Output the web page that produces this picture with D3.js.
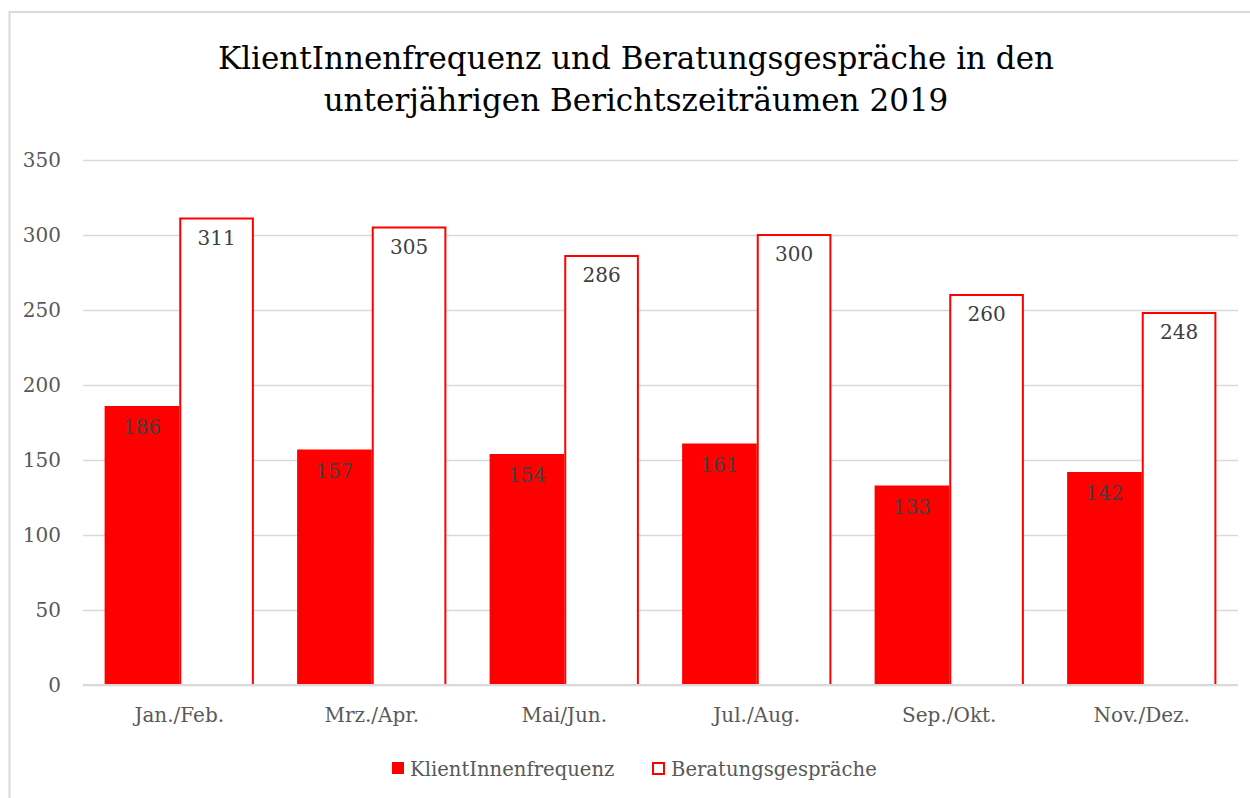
<!DOCTYPE html>
<html>
<head>
<meta charset="utf-8">
<script src="https://cdn.jsdelivr.net/npm/d3@7"></script>
<style>
  html, body { margin: 0; padding: 0; background: #fff; }
  svg { display: block; font-family: "DejaVu Serif", "Liberation Serif", serif; }
</style>
</head>
<body>
<svg id="chart" width="1250" height="798"></svg>
<script>
const categories = ["Jan./Feb.", "Mrz./Apr.", "Mai/Jun.", "Jul./Aug.", "Sep./Okt.", "Nov./Dez."];
const klientInnenfrequenz = [186, 157, 154, 161, 133, 142];
const beratungsgespraeche = [311, 305, 286, 300, 260, 248];
const seriesNames = ["KlientInnenfrequenz", "Beratungsgespräche"];
const yTicks = [0, 50, 100, 150, 200, 250, 300, 350];
const titleLines = ["KlientInnenfrequenz und Beratungsgespräche in den", "unterjährigen Berichtszeiträumen 2019"];

const svg = d3.select("#chart");
const W = 1250, H = 798;
const plot = { left: 83, right: 1238, top: 160, bottom: 685 };
const small = 20;

// outer border
svg.append("rect").attr("x", 9.5).attr("y", 12).attr("width", W + 20).attr("height", H + 20)
  .attr("fill", "#fff").attr("stroke", "#d9d9d9").attr("stroke-width", 2);

// title
svg.append("text").attr("x", 636).attr("y", 69).attr("text-anchor", "middle")
  .attr("font-size", 31).attr("fill", "#000").text(titleLines[0]);
svg.append("text").attr("x", 636).attr("y", 111).attr("text-anchor", "middle")
  .attr("font-size", 31).attr("fill", "#000").text(titleLines[1]);

const x = d3.scaleBand().domain(categories).range([plot.left, plot.right]).paddingInner(0.2246).paddingOuter(0.1123);
const y = d3.scaleLinear().domain([0, 350]).range([plot.bottom, plot.top]);
const sub = d3.scaleBand().domain(seriesNames).range([0, x.bandwidth()]).padding(0);

// grid
const yAxis = d3.axisLeft(y).tickValues(yTicks).tickSize(-(plot.right - plot.left)).tickPadding(22).tickFormat(d3.format("d"));
const gy = svg.append("g").attr("transform", `translate(${plot.left},0)`).call(yAxis);
gy.select(".domain").remove();
gy.selectAll(".tick line").attr("stroke", "#d9d9d9").attr("stroke-width", 1.5);
gy.selectAll(".tick text").attr("fill", "#595959").attr("font-size", small)
  .attr("font-family", "DejaVu Serif, serif");

const groups = svg.selectAll("g.cat").data(categories).join("g").attr("class", "cat")
  .attr("transform", d => `translate(${x(d)},0)`);

// red bars
groups.append("rect")
  .attr("x", sub(seriesNames[0]))
  .attr("y", (d, i) => y(klientInnenfrequenz[i]))
  .attr("width", sub.bandwidth())
  .attr("height", (d, i) => y(0) - y(klientInnenfrequenz[i]))
  .attr("fill", "#ff0000");

// white outlined bars
groups.append("rect")
  .attr("x", sub(seriesNames[1]) + 1)
  .attr("y", (d, i) => y(beratungsgespraeche[i]))
  .attr("width", sub.bandwidth() - 2)
  .attr("height", (d, i) => y(0) - y(beratungsgespraeche[i]))
  .attr("fill", "#fff").attr("stroke", "#ff0000").attr("stroke-width", 2);

// axis baseline
svg.append("line").attr("x1", plot.left).attr("x2", plot.right).attr("y1", y(0)).attr("y2", y(0))
  .attr("stroke", "#d9d9d9").attr("stroke-width", 2);

// data labels
groups.append("text")
  .attr("x", sub(seriesNames[0]) + sub.bandwidth() / 2)
  .attr("y", (d, i) => y(klientInnenfrequenz[i]) + 28)
  .attr("text-anchor", "middle").attr("font-size", small).attr("fill", "#404040")
  .text((d, i) => klientInnenfrequenz[i]);
groups.append("text")
  .attr("x", sub(seriesNames[1]) + sub.bandwidth() / 2)
  .attr("y", (d, i) => y(beratungsgespraeche[i]) + 26)
  .attr("text-anchor", "middle").attr("font-size", small).attr("fill", "#404040")
  .text((d, i) => beratungsgespraeche[i]);

// category labels
const xAxis = d3.axisBottom(x).tickSize(0).tickPadding(0);
const gx = svg.append("g").attr("transform", `translate(0,${plot.bottom})`).call(xAxis);
gx.select(".domain").remove();
gx.selectAll(".tick text").attr("y", 37).attr("dy", null).attr("fill", "#595959").attr("font-size", small)
  .attr("font-family", "DejaVu Serif, serif");

// legend
const leg = svg.append("g");
leg.append("rect").attr("x", 392).attr("y", 762).attr("width", 12).attr("height", 12).attr("fill", "#ff0000");
leg.append("text").attr("x", 410).attr("y", 776).attr("font-size", 19.6).attr("fill", "#595959").text(seriesNames[0]);
leg.append("rect").attr("x", 653).attr("y", 763).attr("width", 11).attr("height", 11)
  .attr("fill", "#fff").attr("stroke", "#ff0000").attr("stroke-width", 2);
leg.append("text").attr("x", 671).attr("y", 776).attr("font-size", 19.6).attr("fill", "#595959").text(seriesNames[1]);
</script>
</body>
</html>
